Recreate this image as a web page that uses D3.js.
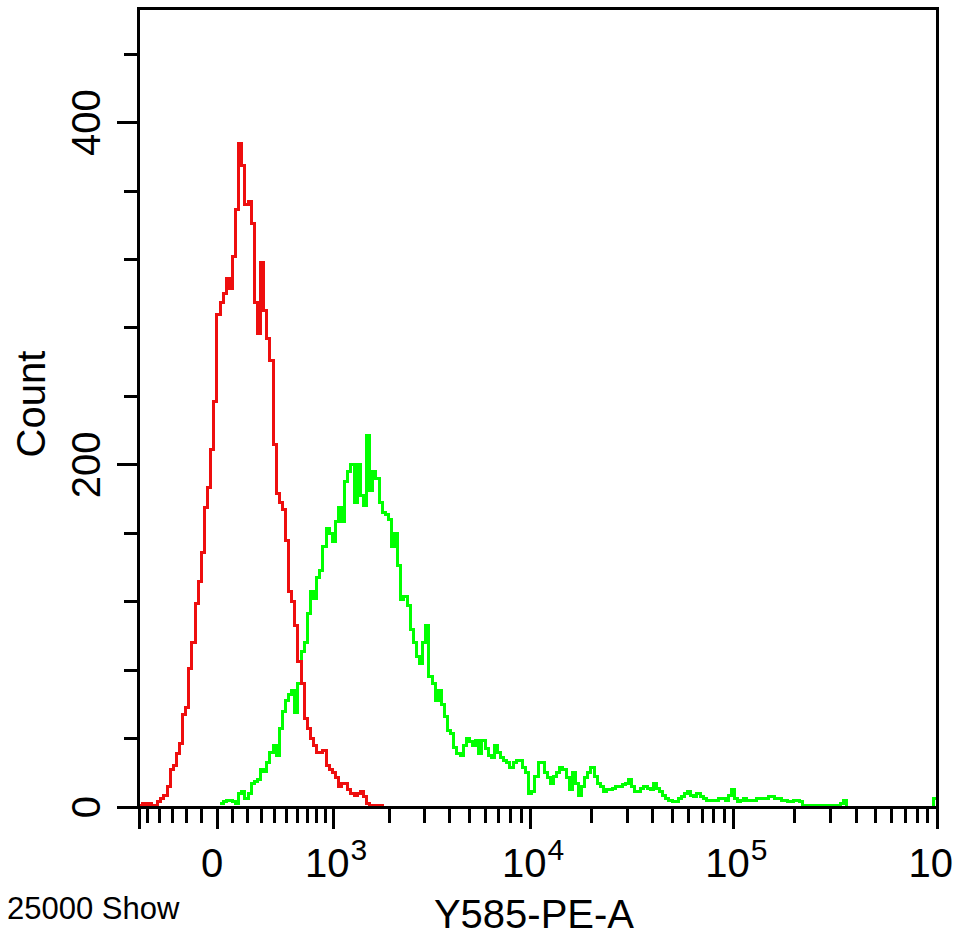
<!DOCTYPE html>
<html>
<head>
<meta charset="utf-8">
<script src="https://cdn.jsdelivr.net/npm/d3@7"></script>
<style>
  html, body { margin: 0; padding: 0; background: #fff; }
  svg { display: block; }
  text { font-family: "Liberation Sans", Arial, sans-serif; fill: #000; }
</style>
</head>
<body>
<svg id="chart" width="956" height="937"></svg>
<script>
// histogram counts per display channel (256 channels across the axis)
var channelCount = 256;

var redStart = 0;
var redCounts = [1,2,1,2,1,1,3,5,7,12,22,24,31,37,54,58,81,96,119,132,
  149,175,187,209,237,288,295,300,309,303,322,349,388,375,352,354,341,295,277,318,
  290,274,261,212,183,178,174,156,126,120,106,85,72,52,46,40,36,32,32,33,
  24,22,20,17,12,14,14,10,8,7,8,9,6,2,1,1,1,1,0];

var greenStart = 26;
var greenCounts = [2,3,4,4,3,2,8,9,5,8,
  14,15,16,22,21,26,32,36,30,46,
  56,62,66,68,55,72,91,96,113,126,
  122,134,138,152,163,160,155,167,175,167,
  190,196,200,178,200,182,176,217,185,196,
  192,178,172,171,168,152,160,141,121,123,
  118,104,96,88,84,96,106,76,72,62,
  68,60,53,45,43,35,31,30,36,40,
  38,36,39,31,39,34,30,29,36,32,
  29,27,26,23,26,27,27,23,20,8,
  9,18,26,26,20,17,14,18,20,23,
  22,17,10,20,14,7,12,17,20,23,
  18,14,12,9,10,10,11,12,12,13,
  14,16,12,9,9,11,12,11,10,14,
  11,9,7,5,4,3,3,5,6,8,
  9,7,6,8,6,5,4,4,4,4,
  5,5,4,7,10,5,3,4,5,4,
  4,4,5,5,5,5,6,6,5,5,
  4,4,3,3,4,4,3,1,1,0,
  1,1,0,1,0,1,0,1,0,2,
  4,0,0,0,0,0,0,0,0,0,
  0,0,0,0,0,0,0,0,0,0,
  0,0,0,0,0,0,0,0,0,5];

// axis ticks
var xMin = -578, xMax = 1e6;
var xMajor = [-578, 0, 1e3, 1e4, 1e5, 1e6];
var xMinor = [-500,-400,-300,-200,-100,
  100,200,300,400,500,600,700,800,900,
  2e3,3e3,4e3,5e3,6e3,7e3,8e3,9e3,
  2e4,3e4,4e4,5e4,6e4,7e4,8e4,9e4,
  2e5,3e5,4e5,5e5,6e5,7e5,8e5,9e5];
var xLabelValues = [0, 1e3, 1e4, 1e5, 1e6];
var xLabelBase = ["0", "10", "10", "10", "10"];
var xLabelExp = ["", "3", "4", "5", ""];

var yMax = 467;
var yTicks = [0,40,80,120,160,200,240,280,320,360,400,440];
var yLabels = [0, 200, 400];

var plotL = 139, plotR = 937, plotT = 8, plotB = 807;

var svg = d3.select("#chart");

// biexponential-like display transform
var W = 576;
function biex(v) { return Math.asinh(v / W); }
var xT = d3.scaleLinear().domain([biex(xMin), biex(xMax)]).range([plotL, plotR]);
function x(v) { return xT(biex(v)); }

var xChan = d3.scaleLinear().domain([0, channelCount]).range([plotL, plotR]);
var y = d3.scaleLinear().domain([0, yMax]).range([plotB, plotT]);

function toBins(start, counts) {
    var pts = counts.map(function(c, i) { return {i: start + i, c: c}; });
    pts.push({i: start + counts.length, c: counts[counts.length - 1]});
    return pts;
}

var line = d3.line()
    .x(function(d) { return xChan(d.i); })
    .y(function(d) { return y(d.c); })
    .curve(d3.curveStepAfter);

var plot = svg.append("g");

plot.append("path")
    .datum(toBins(greenStart, greenCounts))
    .attr("d", line)
    .attr("fill", "none")
    .attr("stroke", "#00ff00")
    .attr("stroke-width", 3)
    .attr("shape-rendering", "crispEdges");

plot.append("path")
    .datum(toBins(redStart, redCounts))
    .attr("d", line)
    .attr("fill", "none")
    .attr("stroke", "#ee0e0e")
    .attr("stroke-width", 3)
    .attr("shape-rendering", "crispEdges");

// frame
svg.append("rect")
    .attr("x", plotL - 0.5).attr("y", plotT)
    .attr("width", plotR - plotL + 0.5).attr("height", plotB - plotT)
    .attr("fill", "none")
    .attr("stroke", "#000")
    .attr("stroke-width", 3)
    .attr("shape-rendering", "crispEdges");

// x ticks
var ax = svg.append("g").attr("shape-rendering", "crispEdges").attr("stroke", "#000").attr("stroke-width", 3);
ax.selectAll("line.minor").data(xMinor).enter().append("line")
    .attr("x1", function(d) { return x(d); }).attr("x2", function(d) { return x(d); })
    .attr("y1", plotB).attr("y2", plotB + 16);
ax.selectAll("line.major").data(xMajor).enter().append("line")
    .attr("x1", function(d) { return x(d); }).attr("x2", function(d) { return x(d); })
    .attr("y1", plotB).attr("y2", plotB + 22);

// x labels
xLabelValues.forEach(function(v, i) {
    var px = x(v);
    if (xLabelBase[i] === "0") {
        svg.append("text").attr("x", px - 5).attr("y", 877)
            .attr("text-anchor", "middle").style("font-size", "40px").text(xLabelBase[i]);
    } else {
        svg.append("text").attr("x", px + 16).attr("y", 877)
            .attr("text-anchor", "end").style("font-size", "40px").text(xLabelBase[i]);
        if (xLabelExp[i] !== "") {
            svg.append("text").attr("x", px + 17).attr("y", 860)
                .attr("text-anchor", "start").style("font-size", "30px").text(xLabelExp[i]);
        }
    }
});

// y ticks
var ay = svg.append("g").attr("shape-rendering", "crispEdges").attr("stroke", "#000").attr("stroke-width", 3);
ay.selectAll("line").data(yTicks).enter().append("line")
    .attr("x1", function(d) { return yLabels.indexOf(d) >= 0 ? plotL - 22 : plotL - 15; })
    .attr("x2", plotL)
    .attr("y1", function(d) { return y(d); })
    .attr("y2", function(d) { return y(d); });

svg.selectAll("text.ylab").data(yLabels).enter().append("text")
    .attr("class", "ylab")
    .attr("transform", function(d) { return "translate(100," + y(d) + ") rotate(-90)"; })
    .attr("text-anchor", "middle")
    .style("font-size", "40px")
    .text(function(d) { return d; });

// titles
svg.append("text")
    .attr("transform", "translate(45,404) rotate(-90)")
    .attr("text-anchor", "middle")
    .style("font-size", "40px")
    .text("Count");

svg.append("text")
    .attr("x", 534).attr("y", 928)
    .attr("text-anchor", "middle")
    .style("font-size", "40px")
    .text("Y585-PE-A");

svg.append("text")
    .attr("x", 7).attr("y", 919)
    .style("font-size", "31px")
    .text("25000 Show");
</script>
</body>
</html>
